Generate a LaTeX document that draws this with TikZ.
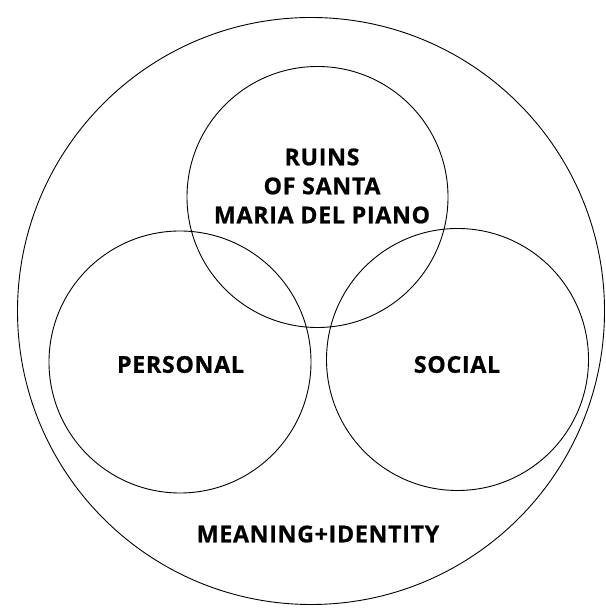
\documentclass[tikz,border=0pt]{standalone}
\usepackage{fontspec}
\setmainfont{Open Sans}[LetterSpace=3,BoldFeatures={FakeBold=0.8}]
\begin{document}
\begin{tikzpicture}[x=1pt,y=1pt,
  ring/.style={circle,draw=black,line width=0.9pt,inner sep=0pt},
  lbl/.style={font=\fontsize{23.2}{29}\selectfont\bfseries,align=center,text=black}]
\useasboundingbox (0,0) rectangle (605,609);
\node[ring,minimum size=587pt] (outer) at (311,298) {};
\node[ring,minimum size=261pt] (top) at (317.5,412) {};
\node[ring,minimum size=262pt] (left) at (180,247) {};
\node[ring,minimum size=262pt] (right) at (457.5,249.5) {};
\node[lbl] (ruins) at (322,423) {RUINS\\OF SANTA\\MARIA DEL PIANO};
\node[lbl] (personal) at (180.5,244.5) {PERSONAL};
\node[lbl] (social) at (457,244.5) {SOCIAL};
\node[lbl] (meaning) at (318,75) {MEANING+IDENTITY};
\end{tikzpicture}
\end{document}
